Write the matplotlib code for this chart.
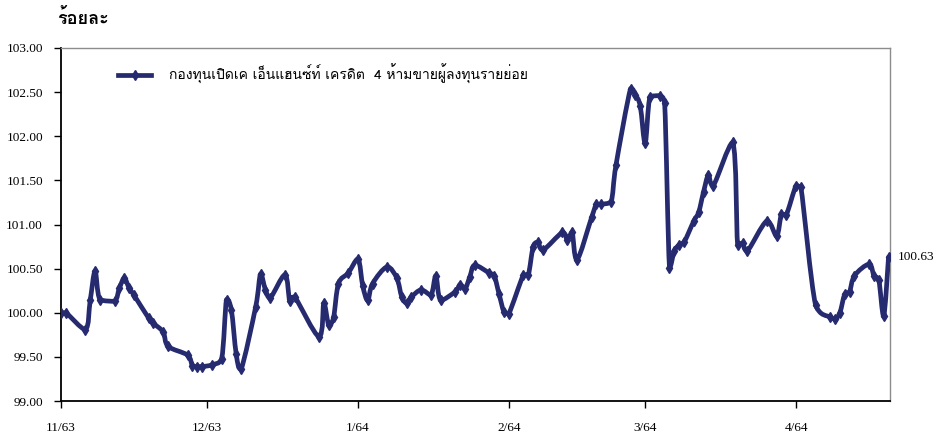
import matplotlib
matplotlib.use('Agg')
import matplotlib.pyplot as plt
import matplotlib.dates as mdates
from matplotlib.lines import Line2D
from matplotlib.patches import PathPatch
from matplotlib.path import Path
import numpy as np
import pandas as pd

# NAV index of the fund (percent)
dates = [
    '2020-11-02', '2020-11-03', '2020-11-07', '2020-11-08', '2020-11-09', '2020-11-10',
    '2020-11-13', '2020-11-14', '2020-11-15', '2020-11-16', '2020-11-17', '2020-11-20',
    '2020-11-21', '2020-11-23', '2020-11-24', '2020-11-28', '2020-11-29', '2020-11-30',
    '2020-12-01', '2020-12-03', '2020-12-05', '2020-12-06', '2020-12-07', '2020-12-08',
    '2020-12-09', '2020-12-12', '2020-12-13', '2020-12-14', '2020-12-15', '2020-12-18',
    '2020-12-19', '2020-12-20', '2020-12-25', '2020-12-26', '2020-12-27', '2020-12-28',
    '2020-12-29', '2020-12-31',
    '2021-01-02', '2021-01-03', '2021-01-04', '2021-01-05', '2021-01-08', '2021-01-10',
    '2021-01-11', '2021-01-12', '2021-01-13', '2021-01-15', '2021-01-17', '2021-01-18',
    '2021-01-19', '2021-01-22', '2021-01-23', '2021-01-24', '2021-01-25', '2021-01-26',
    '2021-01-29', '2021-01-30', '2021-01-31',
    '2021-02-01', '2021-02-02', '2021-02-05', '2021-02-06', '2021-02-07', '2021-02-08',
    '2021-02-09', '2021-02-13', '2021-02-14', '2021-02-15', '2021-02-16', '2021-02-19',
    '2021-02-20', '2021-02-21', '2021-02-23', '2021-02-24', '2021-02-27', '2021-02-28',
    '2021-03-01', '2021-03-02', '2021-03-03', '2021-03-05', '2021-03-06', '2021-03-07',
    '2021-03-08', '2021-03-09', '2021-03-10', '2021-03-12', '2021-03-13', '2021-03-14',
    '2021-03-15', '2021-03-16', '2021-03-20', '2021-03-21', '2021-03-22', '2021-03-23',
    '2021-03-27', '2021-03-29', '2021-03-30', '2021-03-31',
    '2021-04-02', '2021-04-03', '2021-04-06', '2021-04-09', '2021-04-10', '2021-04-11',
    '2021-04-12', '2021-04-13', '2021-04-14', '2021-04-17', '2021-04-18', '2021-04-19',
    '2021-04-20', '2021-04-21',
]
nav = [
    100.00, 100.00, 99.81, 100.14, 100.47, 100.15,
    100.13, 100.28, 100.39, 100.28, 100.20, 99.94,
    99.88, 99.78, 99.62, 99.52, 99.40, 99.39,
    99.39, 99.41, 99.48, 100.15, 100.03, 99.53,
    99.36, 100.07, 100.44, 100.26, 100.17, 100.43,
    100.13, 100.18, 99.73, 100.11, 99.86, 99.95,
    100.33, 100.45,
    100.61, 100.30, 100.14, 100.33, 100.52, 100.39,
    100.18, 100.11, 100.18, 100.26, 100.20, 100.42,
    100.14, 100.24, 100.32, 100.27, 100.41, 100.54,
    100.45, 100.42, 100.21,
    100.01, 99.99, 100.43, 100.43, 100.75, 100.80,
    100.71, 100.91, 100.83, 100.91, 100.60, 101.08,
    101.23, 101.23, 101.26, 101.67, 102.54, 102.47,
    102.34, 101.92, 102.45, 102.46, 102.38, 100.51,
    100.70, 100.77, 100.80, 101.04, 101.14, 101.37,
    101.56, 101.44, 101.93, 100.77, 100.79, 100.70,
    101.04, 100.87, 101.12, 101.11,
    101.44, 101.42, 100.09, 99.95, 99.93, 100.00,
    100.21, 100.24, 100.42, 100.55, 100.42, 100.37,
    99.96, 100.63,
]
tick_dates = ['2020-11-02', '2020-12-02', '2021-01-02', '2021-02-02', '2021-03-02', '2021-04-02']
tick_labels = ['11/63', '12/63', '1/64', '2/64', '3/64', '4/64']
y_ticks = [99.0, 99.5, 100.0, 100.5, 101.0, 101.5, 102.0, 102.5, 103.0]

series_name = 'กองทุนเปิดเค เอ็นแฮนซ์ท์ เครดิต  4 ห้ามขายผู้ลงทุนรายย่อย'
unit_label = 'ร้อยละ'
navy = '#262a6f'
thai_family = ['Loma', 'Noto Sans Thai Looped', 'DejaVu Sans']
serif = 'Liberation Serif'


def smooth_path(x, y):
    # bezier through the points, controls kept inside each segment's range
    n = len(x)
    verts = [(x[0], y[0])]
    codes = [Path.MOVETO]
    for i in range(n - 1):
        xa, ya = (x[i - 1], y[i - 1]) if i > 0 else (x[i], y[i])
        xb, yb = (x[i + 2], y[i + 2]) if i + 2 < n else (x[i + 1], y[i + 1])
        lo, hi = min(y[i], y[i + 1]), max(y[i], y[i + 1])
        c1 = (x[i] + (x[i + 1] - xa) / 6, np.clip(y[i] + (y[i + 1] - ya) / 6, lo, hi))
        c2 = (x[i + 1] - (xb - x[i]) / 6, np.clip(y[i + 1] - (yb - y[i]) / 6, lo, hi))
        verts += [c1, c2, (x[i + 1], y[i + 1])]
        codes += [Path.CURVE4] * 3
    return Path(verts, codes)


t = pd.to_datetime(dates)
xnum = mdates.date2num(t)
vals = np.array(nav)

fig = plt.figure(figsize=(9.36, 4.34), dpi=100)
ax = fig.add_axes([61 / 936, 1 - 401 / 434, 829 / 936, 353 / 434])

ax.add_patch(PathPatch(smooth_path(xnum, vals), facecolor='none', edgecolor=navy,
                       lw=3.4, capstyle='round', joinstyle='round', zorder=3))
ax.plot(t, vals, ls='none', marker='d', ms=5, color=navy, zorder=4)

ax.set_xlim(xnum[0], xnum[-1] + 0.3)
ax.set_ylim(99, 103)
ax.set_yticks(y_ticks)
ax.set_yticklabels([f'{v:.2f}' for v in y_ticks], family=serif, fontsize=9.5)
ax.set_xticks(mdates.date2num(pd.to_datetime(tick_dates)))
ax.set_xticklabels(tick_labels, family=serif, fontsize=9.5)
ax.tick_params(axis='y', direction='out', length=5, width=1, pad=8)
ax.tick_params(axis='x', direction='out', length=5, width=1, pad=10)

for side in ['left', 'bottom']:
    ax.spines[side].set_color('black')
    ax.spines[side].set_linewidth(1.3)
for side in ['top', 'right']:
    ax.spines[side].set_color('#8c8c8c')
    ax.spines[side].set_linewidth(1.0)

handle = Line2D([], [], color=navy, lw=3.4, marker='d', ms=5)
ax.legend([handle], [series_name], loc='center left', bbox_to_anchor=(0.0688, 0.926),
          frameon=False, borderpad=0, borderaxespad=0, handlelength=2.4,
          handletextpad=1.3, prop={'family': thai_family, 'size': 10})

ax.annotate(f'{nav[-1]:.2f}', (xnum[-1], vals[-1]), xytext=(7, 0), textcoords='offset points',
            va='center', ha='left', family=serif, fontsize=9.5,
            annotation_clip=False)

fig.text(57 / 936, 1 - 19 / 434, unit_label, family=thai_family, fontsize=13,
         fontweight='bold', va='center', ha='left')

fig.savefig('out.png', dpi=100)
